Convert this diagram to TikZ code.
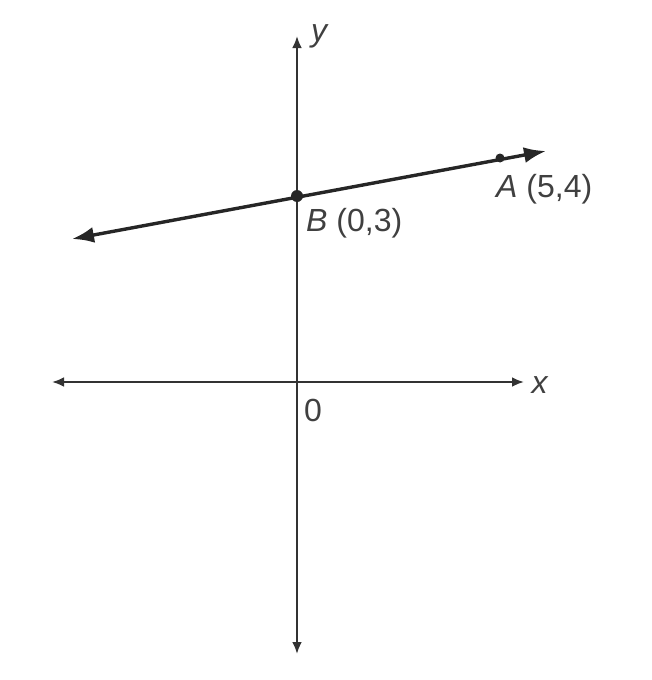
\documentclass[tikz,border=0pt]{standalone}
\usepackage{fontspec}
\setmainfont{Liberation Sans}
\usetikzlibrary{arrows.meta}
\begin{document}
\begin{tikzpicture}[x=1pt,y=-1pt,
  axis/.style={line width=2.6pt,draw=black!80,-{Latex[length=12pt,width=10pt]}},
  graphline/.style={line width=3.4pt,draw=black!85,{Latex[length=22pt,width=16pt]}-{Latex[length=22pt,width=16pt]}},
  dot/.style={circle,fill=black!85,inner sep=0pt,minimum size=12pt},
  lbl/.style={font=\fontsize{32}{36}\selectfont,text=black!75,inner sep=0pt}]
\useasboundingbox (0,0) rectangle (652,680);
\coordinate (o) at (297,382);
\coordinate (xl) at (52,382);
\coordinate (xr) at (524,382);
\coordinate (yt) at (297,36);
\coordinate (yb) at (297,654);
\draw[axis] (o) -- (xr);
\draw[axis] (o) -- (xl);
\draw[axis] (o) -- (yt);
\draw[axis] (o) -- (yb);
\coordinate (lt) at (72,239);
\coordinate (rt) at (546,151);
\draw[graphline] (lt) -- (rt);
\node[dot] (B) at (297,196) {};
\node[dot,minimum size=9pt] (A) at (500,158) {};
\node[lbl,anchor=west] (Bl) at (306,223) {\textit{B} (0,3)};
\node[lbl,anchor=west] (Al) at (496,189) {\textit{A} (5,4)};
\node[lbl] (xlab) at (540,385) {\textit{x}};
\node[lbl] (ylab) at (320,36) {\textit{y}};
\node[lbl] (zero) at (313,410) {0};
\end{tikzpicture}
\end{document}
